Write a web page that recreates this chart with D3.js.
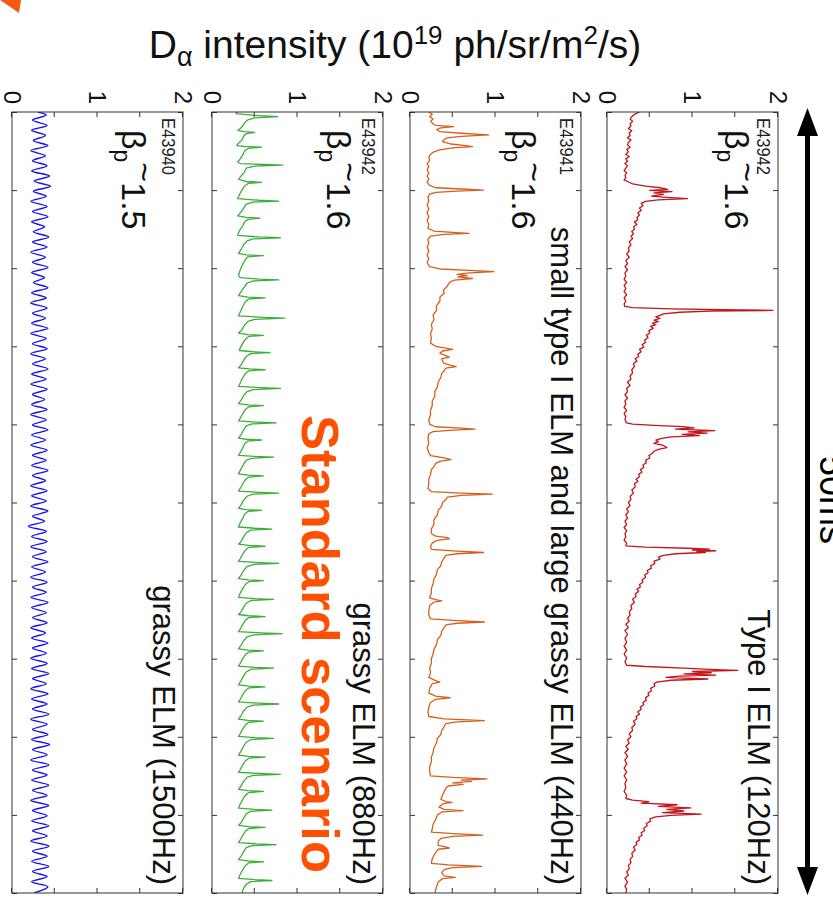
<!DOCTYPE html>
<html>
<head>
<meta charset="utf-8">
<script src="https://cdn.jsdelivr.net/npm/d3@7"></script>
<style>
  html, body { margin: 0; padding: 0; background: #fff; }
  svg { display: block; }
  text { font-family: "Liberation Sans", Arial, Helvetica, sans-serif; }
</style>
</head>
<body>
<svg id="fig" width="833" height="899"></svg>
<script>
// ---- D-alpha traces, time in ms, intensity in 1e19 ph/sr/m^2/s ----
const shotIds = ["E43942", "E43941", "E43942", "E43940"];
const betaValues = ["1.6", "1.6", "1.6", "1.5"];
const regimeLabels = [
  "Type I ELM (120Hz)",
  "small type I ELM and large grassy ELM (440Hz)",
  "grassy ELM (880Hz)",
  "grassy ELM (1500Hz)"
];
const traceColors = ["#c0161c", "#d5601e", "#3dae3a", "#1414f0"];
const timeTicks = [0, 5, 10, 15, 20, 25, 30, 35, 40, 45, 50];
const intensityTicks = [0, 0.5, 1, 1.5, 2];
const intensityLabels = [0, 1, 2];
const titleParts = ["D", "\u03b1", " intensity (10", "19", " ph/sr/m", "2", "/s)"];
const spanLabel = "50ms";
const scenarioLabel = "Standard scenario";

const typeIElm = [
  [0,0.38],[0.15,0.32],[0.3,0.29],[0.45,0.27],[0.6,0.3],[0.75,0.27],[0.9,0.28],[1.05,0.25],[1.2,0.29],[1.35,0.26],[1.5,0.27],[1.65,0.24],[1.8,0.28],[1.95,0.25],[2.1,0.24],[2.25,0.27],[2.4,0.23],[2.55,0.25],[2.7,0.22],[2.85,0.26],[3.0,0.22],[3.15,0.24],[3.3,0.21],[3.45,0.24],[3.6,0.22],[3.75,0.2],[3.9,0.23],[4.05,0.21],[4.2,0.22],[4.35,0.2],
  [4.45,0.24],[4.6,0.3],[4.75,0.45],[4.85,0.62],[4.95,0.71],[5.02,0.5],[5.1,0.76],[5.18,0.55],[5.28,0.66],[5.38,0.52],[5.46,0.7],[5.55,0.94],[5.62,0.6],[5.72,0.45],[5.85,0.4],[6.0,0.42],
  [6.15,0.38],[6.3,0.4],[6.45,0.36],[6.6,0.38],[6.75,0.35],[6.9,0.36],[7.05,0.32],[7.2,0.35],[7.35,0.31],[7.5,0.32],[7.65,0.29],[7.8,0.31],[7.95,0.28],[8.1,0.3],[8.3,0.26],[8.5,0.28],[8.7,0.25],[8.9,0.26],[9.1,0.23],[9.3,0.26],[9.5,0.22],[9.7,0.24],[9.9,0.21],[10.1,0.24],[10.3,0.21],[10.5,0.22],[10.7,0.2],[10.9,0.23],[11.1,0.2],[11.3,0.22],[11.5,0.2],[11.7,0.23],[11.9,0.2],[12.1,0.22],[12.3,0.2],[12.45,0.21],
  [12.52,0.3],[12.6,0.75],[12.66,1.35],[12.7,1.94],[12.75,1.2],[12.82,0.85],[12.92,0.66],[13.02,0.62],[13.12,0.57],[13.22,0.62],[13.32,0.55],[13.42,0.6],[13.52,0.53],[13.62,0.57],[13.72,0.51],[13.85,0.54],[14.0,0.49],[14.15,0.5],[14.3,0.46],[14.45,0.48],[14.6,0.44],[14.75,0.45],[14.9,0.41],[15.05,0.43],[15.2,0.38],[15.35,0.4],[15.5,0.36],[15.65,0.37],[15.8,0.33],[15.95,0.35],[16.1,0.31],[16.3,0.32],[16.5,0.29],[16.7,0.3],[16.9,0.27],[17.1,0.28],[17.3,0.24],[17.5,0.27],[17.7,0.23],[17.9,0.24],[18.1,0.21],[18.3,0.24],[18.5,0.21],[18.7,0.22],[18.9,0.2],[19.1,0.23],[19.3,0.2],[19.5,0.22],[19.7,0.21],[19.9,0.23],
  [19.98,0.3],[20.06,0.55],[20.14,0.89],[20.22,1.02],[20.3,0.8],[20.4,1.26],[20.48,0.95],[20.56,1.17],[20.64,0.88],[20.72,1.08],[20.8,0.75],[20.9,0.64],[21.0,0.57],[21.1,0.6],[21.22,0.55],[21.35,0.66],[21.48,0.7],[21.6,0.6],[21.72,0.55],[21.85,0.53],[22.0,0.49],[22.15,0.5],[22.3,0.45],[22.45,0.46],[22.6,0.42],[22.75,0.43],[22.9,0.39],[23.05,0.41],[23.2,0.37],[23.35,0.38],[23.5,0.34],[23.65,0.36],[23.8,0.32],[24.0,0.33],[24.2,0.29],[24.4,0.31],[24.6,0.27],[24.8,0.28],[25.0,0.25],[25.2,0.27],[25.4,0.23],[25.6,0.25],[25.8,0.22],[26.0,0.24],[26.2,0.21],[26.4,0.23],[26.6,0.2],[26.8,0.23],[27.0,0.21],[27.2,0.22],[27.4,0.2],[27.6,0.23],[27.78,0.22],
  [27.86,0.45],[27.93,0.95],[27.99,1.2],[28.04,1.0],[28.09,1.27],[28.14,1.05],[28.2,1.15],[28.28,0.8],[28.38,0.66],[28.5,0.6],[28.62,0.62],[28.75,0.55],[28.9,0.56],[29.05,0.51],[29.2,0.52],[29.35,0.47],[29.5,0.48],[29.65,0.44],[29.8,0.45],[29.95,0.41],[30.1,0.42],[30.25,0.38],[30.4,0.39],[30.55,0.35],[30.7,0.37],[30.85,0.33],[31.0,0.34],[31.2,0.3],[31.4,0.32],[31.6,0.28],[31.8,0.29],[32.0,0.26],[32.2,0.27],[32.4,0.24],[32.6,0.26],[32.8,0.22],[33.0,0.25],[33.2,0.21],[33.45,0.24],[33.7,0.21],[33.95,0.23],[34.2,0.2],[34.45,0.23],[34.7,0.2],[34.95,0.23],[35.2,0.21],[35.42,0.23],
  [35.5,0.45],[35.6,0.9],[35.68,1.2],[35.75,1.53],[35.82,1.0],[35.9,1.22],[35.97,0.9],[36.05,1.27],[36.12,0.85],[36.2,0.69],[36.3,1.18],[36.38,0.75],[36.5,0.58],[36.62,0.55],[36.75,0.56],[36.9,0.51],[37.05,0.52],[37.2,0.48],[37.35,0.49],[37.5,0.45],[37.65,0.46],[37.8,0.42],[37.95,0.43],[38.1,0.39],[38.25,0.4],[38.4,0.36],[38.55,0.38],[38.7,0.34],[38.85,0.35],[39.0,0.31],[39.2,0.33],[39.4,0.29],[39.6,0.3],[39.8,0.26],[40.0,0.28],[40.2,0.24],[40.4,0.26],[40.6,0.22],[40.8,0.25],[41.0,0.21],[41.25,0.24],[41.5,0.21],[41.75,0.23],[42.0,0.2],[42.25,0.23],[42.5,0.2],[42.75,0.23],[43.0,0.21],[43.25,0.22],[43.5,0.2],[43.75,0.23],[43.95,0.22],
  [44.05,0.3],[44.15,0.49],[44.25,0.4],[44.35,0.82],[44.45,0.6],[44.55,0.98],[44.65,0.7],[44.75,0.9],[44.85,0.65],[44.95,1.1],[45.03,0.75],[45.12,0.57],[45.25,0.5],[45.4,0.51],[45.55,0.46],[45.7,0.47],[45.85,0.43],[46.0,0.44],[46.15,0.4],[46.3,0.41],[46.45,0.37],[46.6,0.38],[46.75,0.34],[46.9,0.35],[47.05,0.31],[47.25,0.33],[47.45,0.29],[47.65,0.3],[47.85,0.27],[48.05,0.28],[48.25,0.25],[48.45,0.26],[48.65,0.23],[48.85,0.25],[49.05,0.21],[49.3,0.24],[49.55,0.21],[49.8,0.23],[50,0.22]
];

const mixedElm = [
  [0,0.22],[0.15,0.26],[0.3,0.23],[0.45,0.27],[0.6,0.24],[0.75,0.27],[0.85,0.3],[0.94,0.51],[1.02,0.36],[1.12,0.31],[1.25,0.35],[1.36,0.6],[1.47,0.92],[1.56,0.6],[1.66,0.43],[1.78,0.4],[1.9,0.38],[2.05,0.48],[2.15,0.65],[2.22,0.73],[2.3,0.5],[2.42,0.35],[2.55,0.28],[2.7,0.24],[2.9,0.22],[3.1,0.23],[3.3,0.2],[3.5,0.22],[3.7,0.2],[3.9,0.22],[4.1,0.2],[4.3,0.22],[4.5,0.2],[4.7,0.23],
  [4.85,0.3],[4.93,0.6],[5.0,0.86],[5.06,0.55],[5.14,0.3],[5.25,0.23],[5.45,0.21],[5.7,0.22],[5.95,0.2],[6.2,0.22],[6.45,0.2],[6.7,0.22],[6.95,0.2],[7.2,0.22],[7.45,0.21],
  [7.62,0.28],[7.7,0.5],[7.77,0.69],[7.84,0.4],[7.95,0.24],[8.15,0.21],[8.4,0.22],[8.65,0.2],[8.9,0.22],[9.15,0.2],[9.4,0.22],[9.65,0.2],[9.9,0.23],
  [10.05,0.35],[10.14,0.7],[10.22,0.98],[10.3,0.7],[10.4,0.55],[10.48,0.67],[10.56,0.56],[10.66,0.73],[10.76,0.52],[10.88,0.47],[11.0,0.45],[11.2,0.43],[11.4,0.39],[11.6,0.4],[11.85,0.35],[12.1,0.35],[12.4,0.31],[12.7,0.31],[13.0,0.27],[13.3,0.28],[13.6,0.25],[13.9,0.26],[14.2,0.24],[14.5,0.25],[14.8,0.24],
  [15.0,0.3],[15.12,0.42],[15.2,0.5],[15.3,0.38],[15.45,0.35],[15.6,0.42],[15.7,0.46],[15.8,0.37],[15.95,0.38],[16.1,0.4],[16.22,0.48],[16.3,0.54],[16.4,0.42],[16.55,0.4],[16.75,0.37],[17.0,0.36],[17.3,0.33],[17.6,0.32],[17.9,0.29],[18.2,0.29],[18.5,0.26],[18.8,0.26],[19.1,0.24],[19.4,0.24],[19.7,0.22],[20.0,0.23],
  [20.15,0.3],[20.24,0.6],[20.3,0.76],[20.37,0.5],[20.46,0.27],[20.6,0.22],[20.9,0.21],[21.2,0.22],[21.5,0.2],[21.8,0.22],[22.0,0.24],[22.15,0.4],[22.25,0.48],[22.35,0.36],[22.5,0.3],[22.7,0.28],[22.9,0.25],[23.2,0.24],[23.5,0.22],[23.8,0.22],[24.1,0.21],
  [24.3,0.25],[24.4,0.6],[24.47,0.96],[24.55,0.6],[24.65,0.44],[24.8,0.42],[25.0,0.38],[25.25,0.37],[25.5,0.33],[25.8,0.32],[26.1,0.28],[26.4,0.28],[26.7,0.25],[27.0,0.25],[27.15,0.3],[27.25,0.44],[27.33,0.46],[27.42,0.32],[27.6,0.26],[27.8,0.24],[28.0,0.25],
  [28.1,0.5],[28.2,0.86],[28.28,0.55],[28.38,0.42],[28.55,0.4],[28.8,0.37],[29.05,0.36],[29.3,0.32],[29.6,0.31],[29.9,0.28],[30.2,0.27],[30.5,0.25],[30.8,0.25],[31.1,0.23],[31.22,0.3],[31.3,0.37],[31.38,0.28],[31.6,0.23],[31.9,0.22],[32.2,0.22],[32.45,0.24],
  [32.55,0.5],[32.65,0.87],[32.73,0.55],[32.83,0.42],[33.0,0.4],[33.25,0.37],[33.5,0.36],[33.8,0.32],[34.1,0.31],[34.4,0.28],[34.7,0.27],[35.0,0.25],[35.3,0.25],[35.6,0.23],[35.9,0.24],[36.2,0.22],[36.4,0.3],[36.5,0.35],[36.6,0.26],[36.9,0.23],[37.2,0.22],[37.4,0.3],[37.5,0.47],[37.6,0.3],[37.8,0.24],[38.1,0.22],[38.4,0.21],[38.7,0.22],
  [38.85,0.4],[38.96,0.87],[39.05,0.55],[39.15,0.42],[39.35,0.4],[39.6,0.37],[39.85,0.36],[40.1,0.32],[40.4,0.31],[40.7,0.28],[41.0,0.27],[41.3,0.25],[41.6,0.25],[41.9,0.23],[42.2,0.23],[42.5,0.24],
  [42.6,0.5],[42.7,0.9],[42.78,0.6],[42.86,0.72],[42.95,0.5],[43.05,0.62],[43.15,0.45],[43.3,0.42],[43.5,0.4],[43.75,0.38],[44.0,0.36],[44.15,0.42],[44.2,0.49],[44.3,0.38],[44.5,0.34],[44.65,0.4],[44.72,0.62],[44.8,0.38],[45.0,0.32],[45.3,0.3],[45.6,0.27],[45.9,0.26],[46.1,0.25],
  [46.2,0.5],[46.3,0.85],[46.38,0.5],[46.5,0.36],[46.7,0.33],[46.95,0.33],[47.05,0.42],[47.12,0.46],[47.2,0.33],[47.5,0.29],[47.8,0.26],[48.1,0.25],[48.2,0.45],[48.3,0.84],[48.38,0.5],[48.5,0.4],[48.7,0.37],[48.9,0.4],[49.0,0.53],[49.08,0.38],[49.3,0.33],[49.6,0.31],[50,0.29]
];

const grassy880 = [
  [0,0.3],[0.1,0.28],[0.22,0.5],[0.3,0.77],[0.38,0.5],[0.5,0.42],[0.7,0.38],[0.9,0.36],[1.05,0.33],[1.18,0.3],
  [1.25,0.38],[1.3,0.5],[1.38,0.4],[1.55,0.37],[1.8,0.35],[2.0,0.31],[2.15,0.29],
  [2.2,0.38],[2.25,0.58],[2.33,0.42],[2.5,0.38],[2.75,0.36],[3.0,0.33],[3.2,0.3],[3.3,0.33],
  [3.36,0.6],[3.4,0.83],[3.47,0.5],[3.6,0.4],[3.85,0.38],[4.1,0.34],[4.3,0.31],
  [4.45,0.4],[4.5,0.58],[4.57,0.42],[4.75,0.38],[5.0,0.35],[5.3,0.32],[5.55,0.3],
  [5.65,0.55],[5.7,0.78],[5.77,0.48],[5.9,0.4],[6.15,0.37],[6.4,0.34],[6.65,0.3],
  [6.75,0.4],[6.8,0.56],[6.87,0.42],[7.05,0.38],[7.3,0.36],[7.6,0.32],[7.9,0.3],
  [8.0,0.55],[8.05,0.8],[8.12,0.48],[8.25,0.41],[8.5,0.37],[8.8,0.34],[9.05,0.31],
  [9.15,0.4],[9.2,0.6],[9.27,0.42],[9.45,0.39],[9.75,0.36],[10.1,0.33],[10.45,0.31],[10.6,0.33],
  [10.7,0.55],[10.75,0.78],[10.82,0.48],[10.95,0.41],[11.2,0.38],[11.5,0.34],[11.75,0.31],
  [11.85,0.42],[11.9,0.62],[11.97,0.43],[12.15,0.39],[12.45,0.36],[12.8,0.33],[13.05,0.31],
  [13.15,0.6],[13.2,0.85],[13.27,0.5],[13.4,0.42],[13.65,0.38],[13.95,0.35],[14.15,0.31],
  [14.25,0.42],[14.3,0.6],[14.37,0.43],[14.55,0.39],[14.8,0.36],[15.1,0.33],[15.27,0.32],
  [15.35,0.48],[15.4,0.68],[15.47,0.45],[15.65,0.4],[15.9,0.37],[16.2,0.34],[16.38,0.31],
  [16.45,0.44],[16.5,0.62],[16.57,0.43],[16.75,0.39],[17.0,0.36],[17.35,0.33],[17.57,0.31],
  [17.65,0.56],[17.7,0.8],[17.77,0.48],[17.9,0.41],[18.15,0.37],[18.45,0.34],[18.67,0.31],
  [18.75,0.42],[18.8,0.6],[18.87,0.43],[19.05,0.39],[19.3,0.36],[19.6,0.33],[19.78,0.31],
  [19.85,0.52],[19.9,0.75],[19.97,0.47],[20.1,0.4],[20.35,0.37],[20.65,0.34],[20.88,0.31],
  [20.95,0.4],[21.0,0.58],[21.07,0.42],[21.25,0.38],[21.5,0.36],[21.8,0.33],[21.98,0.31],
  [22.05,0.5],[22.1,0.72],[22.17,0.46],[22.3,0.4],[22.55,0.37],[22.85,0.34],[23.17,0.31],
  [23.25,0.42],[23.3,0.6],[23.37,0.43],[23.55,0.39],[23.8,0.36],[24.1,0.33],[24.27,0.31],
  [24.35,0.55],[24.4,0.78],[24.47,0.48],[24.6,0.41],[24.85,0.37],[25.15,0.34],[25.37,0.31],
  [25.45,0.4],[25.5,0.58],[25.57,0.42],[25.75,0.38],[26.0,0.36],[26.3,0.33],[26.57,0.31],
  [26.65,0.5],[26.7,0.7],[26.77,0.45],[26.95,0.4],[27.2,0.37],[27.5,0.34],[27.67,0.31],
  [27.75,0.43],[27.8,0.62],[27.87,0.43],[28.05,0.39],[28.3,0.36],[28.6,0.33],[28.77,0.31],
  [28.85,0.55],[28.9,0.78],[28.97,0.48],[29.1,0.41],[29.35,0.37],[29.65,0.34],[29.87,0.31],
  [29.95,0.42],[30.0,0.6],[30.07,0.43],[30.25,0.39],[30.5,0.36],[30.8,0.33],[31.07,0.31],
  [31.15,0.5],[31.2,0.72],[31.27,0.46],[31.45,0.4],[31.7,0.37],[32.0,0.34],[32.17,0.31],
  [32.25,0.43],[32.3,0.62],[32.37,0.43],[32.55,0.39],[32.8,0.36],[33.1,0.33],[33.27,0.31],
  [33.35,0.58],[33.4,0.82],[33.47,0.49],[33.6,0.41],[33.85,0.37],[34.15,0.34],[34.37,0.31],
  [34.45,0.42],[34.5,0.6],[34.57,0.43],[34.75,0.39],[35.0,0.36],[35.3,0.33],[35.47,0.31],
  [35.55,0.5],[35.6,0.72],[35.67,0.46],[35.85,0.4],[36.1,0.37],[36.4,0.34],[36.67,0.31],
  [36.75,0.43],[36.8,0.62],[36.87,0.43],[37.05,0.39],[37.3,0.36],[37.6,0.33],[37.77,0.31],
  [37.85,0.55],[37.9,0.78],[37.97,0.48],[38.1,0.41],[38.35,0.37],[38.65,0.34],[38.87,0.31],
  [38.95,0.42],[39.0,0.6],[39.07,0.43],[39.25,0.39],[39.5,0.36],[39.8,0.33],[39.97,0.31],
  [40.05,0.5],[40.1,0.72],[40.17,0.46],[40.35,0.4],[40.6,0.37],[40.9,0.34],[41.17,0.31],
  [41.25,0.43],[41.3,0.62],[41.37,0.43],[41.55,0.39],[41.8,0.36],[42.1,0.33],[42.27,0.31],
  [42.35,0.56],[42.4,0.8],[42.47,0.48],[42.6,0.41],[42.85,0.37],[43.15,0.34],[43.37,0.31],
  [43.45,0.42],[43.5,0.6],[43.57,0.43],[43.75,0.39],[44.0,0.36],[44.3,0.33],[44.57,0.31],
  [44.65,0.5],[44.7,0.7],[44.77,0.45],[44.95,0.4],[45.2,0.37],[45.5,0.34],[45.67,0.31],
  [45.75,0.43],[45.8,0.62],[45.87,0.43],[46.05,0.39],[46.3,0.36],[46.6,0.33],[46.77,0.31],
  [46.85,0.52],[46.9,0.75],[46.97,0.47],[47.1,0.4],[47.35,0.37],[47.65,0.34],[47.87,0.31],
  [47.95,0.42],[48.0,0.6],[48.07,0.43],[48.25,0.39],[48.5,0.36],[48.8,0.33],[49.07,0.31],
  [49.15,0.5],[49.2,0.7],[49.27,0.45],[49.45,0.4],[49.7,0.37],[50,0.35]
];

const grassy1500 = [
  [0,0.3],[0.2,0.4],[0.52,0.24],[0.86,0.41],[1.17,0.23],[1.5,0.39],[1.83,0.25],[2.15,0.42],[2.47,0.22],[2.8,0.39],[3.12,0.24],[3.44,0.41],[3.77,0.23],[4.1,0.44],[4.42,0.26],[4.76,0.45],[5.07,0.25],[5.4,0.4],[5.72,0.22],[6.05,0.41],[6.37,0.24],[6.7,0.42],[7.03,0.23],[7.35,0.38],[7.67,0.25],[8.0,0.43],[8.33,0.24],[8.65,0.41],[8.97,0.22],[9.3,0.39],[9.62,0.24],[9.95,0.42],
  [10.28,0.23],[10.6,0.38],[10.92,0.25],[11.25,0.42],[11.57,0.23],[11.9,0.4],[12.22,0.22],[12.55,0.41],[12.88,0.24],[13.2,0.39],[13.52,0.23],[13.85,0.42],[14.17,0.22],[14.5,0.4],[14.83,0.24],[15.15,0.41],[15.47,0.22],[15.8,0.39],[16.12,0.24],[16.45,0.42],[16.78,0.23],[17.1,0.4],[17.42,0.22],[17.75,0.41],[18.08,0.24],[18.4,0.38],[18.72,0.23],[19.05,0.41],[19.37,0.22],[19.7,0.4],
  [20.03,0.24],[20.35,0.42],[20.67,0.23],[21.0,0.39],[21.32,0.22],[21.65,0.41],[21.98,0.24],[22.3,0.4],[22.62,0.23],[22.95,0.42],[23.27,0.24],[23.6,0.39],[23.93,0.22],[24.25,0.41],[24.57,0.23],[24.9,0.4],[25.22,0.22],[25.55,0.42],[25.88,0.24],[26.2,0.38],[26.52,0.19],[26.85,0.4],[27.17,0.23],[27.5,0.41],[27.83,0.22],[28.15,0.4],[28.47,0.24],[28.8,0.42],[29.12,0.23],[29.45,0.39],[29.78,0.22],
  [30.1,0.41],[30.42,0.24],[30.75,0.4],[31.07,0.22],[31.4,0.42],[31.73,0.23],[32.05,0.4],[32.37,0.24],[32.7,0.41],[33.02,0.22],[33.35,0.39],[33.68,0.23],[34.0,0.42],[34.32,0.24],[34.65,0.4],[34.97,0.22],[35.3,0.41],[35.63,0.23],[35.95,0.43],[36.27,0.24],[36.6,0.4],[36.92,0.22],[37.25,0.42],[37.58,0.23],[37.9,0.41],[38.22,0.24],[38.55,0.43],[38.87,0.22],[39.2,0.41],[39.53,0.24],[39.85,0.42],
  [40.17,0.23],[40.5,0.44],[40.82,0.24],[41.15,0.41],[41.48,0.22],[41.8,0.43],[42.12,0.24],[42.45,0.41],[42.77,0.23],[43.1,0.43],[43.43,0.24],[43.75,0.41],[44.07,0.22],[44.4,0.43],[44.72,0.24],[45.05,0.41],[45.38,0.23],[45.7,0.43],[46.02,0.24],[46.35,0.41],[46.67,0.22],[47.0,0.43],[47.33,0.24],[47.65,0.41],[47.97,0.23],[48.3,0.43],[48.62,0.24],[48.95,0.41],[49.28,0.23],[49.6,0.42],[50,0.26]
];

const traces = [typeIElm, mixedElm, grassy880, grassy1500];

// ---- layout (the figure is drawn upright, then turned a quarter turn clockwise) ----
const svg = d3.select("#fig");
const SW = 833;                       // page width -> height of the upright frame
const panelLeft = [607, 410, 212, 12]; // page x of each panel's zero line
const panelW = 171;
const t0 = 112, t1 = 893;             // page y of 0 ms and 50 ms
const betaOffset = [53, 69, 56, 61];

const fig = svg.append("g").attr("transform", `translate(${SW},0) rotate(90)`);

const xT = d3.scaleLinear().domain([0, 50]).range([t0, t1]);

const defs = svg.append("defs");

traces.forEach((data, i) => {
  const vBottom = SW - panelLeft[i];
  const vTop = vBottom - panelW;
  const yS = d3.scaleLinear().domain([0, 2]).range([vBottom, vTop]);
  const g = fig.append("g");

  defs.append("clipPath").attr("id", "clip" + i)
    .append("rect").attr("x", t0).attr("y", vTop).attr("width", t1 - t0).attr("height", panelW);

  // trace
  const line = d3.line().x(d => xT(d[0])).y(d => yS(d[1]))
    .curve(i === 3 ? d3.curveCatmullRom.alpha(0.5) : d3.curveLinear);
  g.append("path").datum(data)
    .attr("clip-path", `url(#clip${i})`)
    .attr("fill", "none")
    .attr("stroke", traceColors[i])
    .attr("stroke-width", i === 3 ? 1.4 : 1.3)
    .attr("stroke-linejoin", "round")
    .attr("d", line);

  // axes: inward ticks on every side, labels only on the intensity axis
  const axL = g.append("g").attr("transform", `translate(${t0},0)`)
    .call(d3.axisLeft(yS).tickValues(intensityTicks).tickSizeInner(-5).tickSizeOuter(0).tickPadding(8)
      .tickFormat(d => intensityLabels.includes(d) ? d3.format("d")(d) : ""));
  const axR = g.append("g").attr("transform", `translate(${t1},0)`)
    .call(d3.axisRight(yS).tickValues(intensityTicks).tickSizeInner(-5).tickSizeOuter(0).tickFormat(""));
  const axT = g.append("g").attr("transform", `translate(0,${vTop})`)
    .call(d3.axisTop(xT).tickValues(timeTicks).tickSizeInner(-5).tickSizeOuter(0).tickFormat(""));
  const axB = g.append("g").attr("transform", `translate(0,${vBottom})`)
    .call(d3.axisBottom(xT).tickValues(timeTicks).tickSizeInner(-5).tickSizeOuter(0).tickFormat(""));
  [axL, axR, axT, axB].forEach(a => {
    a.select(".domain").remove();
    a.selectAll("line").attr("stroke", "#333").attr("stroke-width", 1);
  });
  axL.selectAll("text")
    .attr("font-size", 24)
    .attr("font-family", '"Liberation Sans", Arial, sans-serif')
    .attr("fill", "#111");

  g.append("rect")
    .attr("x", t0).attr("y", vTop).attr("width", t1 - t0).attr("height", panelW)
    .attr("fill", "none").attr("stroke", "#333").attr("stroke-width", 1);

  // shot number
  g.append("text").attr("x", 118).attr("y", vTop + 21)
    .attr("font-size", 19).attr("textLength", 57).attr("lengthAdjust", "spacingAndGlyphs")
    .attr("fill", "#222").text(shotIds[i]);

  // beta_p
  const b = g.append("text").attr("x", 130).attr("y", vTop + betaOffset[i])
    .attr("font-size", 34).attr("fill", "#111");
  b.append("tspan").text("\u03b2");
  b.append("tspan").attr("dy", 8).attr("font-size", 23).text("p");
  b.append("tspan").attr("dy", -19).text("~");
  b.append("tspan").attr("dy", 11).text(betaValues[i]);

  // regime label
  g.append("text").attr("x", 885).attr("y", vTop + 30)
    .attr("text-anchor", "end").attr("font-size", 31).attr("fill", "#111")
    .text(regimeLabels[i]);
});

// time span arrow above the panels
const arrowV = SW - 807.5;
fig.append("line").attr("x1", xT(0) + 20).attr("x2", xT(50) - 20)
  .attr("y1", arrowV).attr("y2", arrowV)
  .attr("stroke", "#000").attr("stroke-width", 5);
fig.append("path")
  .attr("d", `M${xT(0) - 4},${arrowV} L${xT(0) + 24},${arrowV - 10.5} L${xT(0) + 24},${arrowV + 10.5} Z`)
  .attr("fill", "#000");
fig.append("path")
  .attr("d", `M${xT(50) + 2},${arrowV} L${xT(50) - 26},${arrowV - 10.5} L${xT(50) - 26},${arrowV + 10.5} Z`)
  .attr("fill", "#000");
// span label sits just past the page edge, only its lower part shows
fig.append("text").attr("x", 500).attr("y", SW - 820)
  .attr("text-anchor", "middle").attr("font-size", 36).attr("fill", "#000")
  .text(spanLabel);

// scenario banner
fig.append("text").attr("x", 415).attr("y", SW - 302)
  .attr("font-size", 52).attr("font-weight", "bold")
  .attr("textLength", 458).attr("lengthAdjust", "spacingAndGlyphs")
  .attr("fill", "#ff4f00").text(scenarioLabel);

// upright title
const title = svg.append("text").attr("x", 395).attr("y", 58)
  .attr("text-anchor", "middle").attr("font-size", 39).attr("fill", "#111");
title.append("tspan").text(titleParts[0]);
title.append("tspan").attr("dy", 8).attr("font-size", 27).text(titleParts[1]);
title.append("tspan").attr("dy", -8).text(titleParts[2]);
title.append("tspan").attr("dy", -14).attr("font-size", 26).text(titleParts[3]);
title.append("tspan").attr("dy", 14).text(titleParts[4]);
title.append("tspan").attr("dy", -14).attr("font-size", 26).text(titleParts[5]);
title.append("tspan").attr("dy", 14).text(titleParts[6]);

// corner pointer
svg.append("path").attr("d", "M0,0 L21,0 L19,13 Z").attr("fill", "#f25a12");
</script>
</body>
</html>
